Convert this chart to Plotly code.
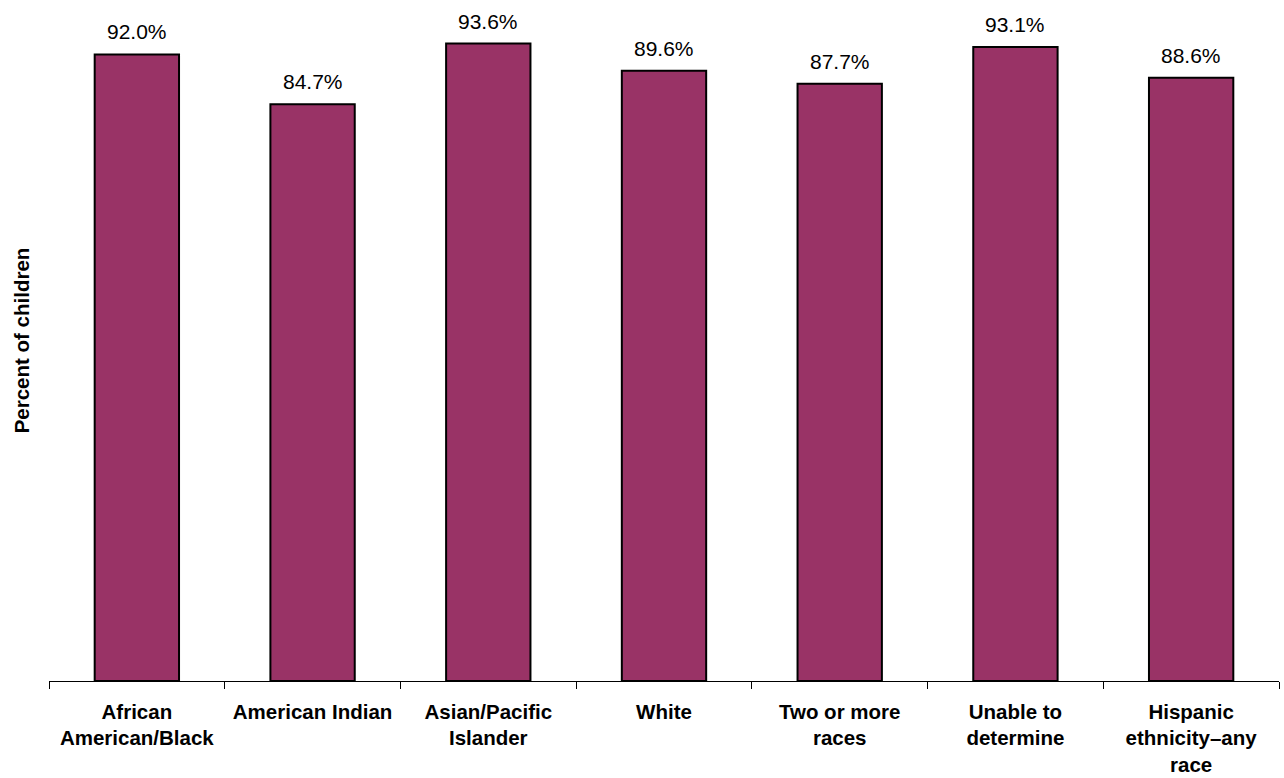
import plotly.graph_objects as go

categories = ["African<br>American/Black", "American Indian", "Asian/Pacific<br>Islander",
              "White", "Two or more<br>races", "Unable to<br>determine",
              "Hispanic<br>ethnicity–any<br>race"]
values = [92.0, 84.7, 93.6, 89.6, 87.7, 93.1, 88.6]
value_labels = [f"{v:.1f}%" for v in values]

FONT = "Liberation Sans, Arial"

fig = go.Figure(go.Bar(
    x=categories, y=values,
    marker=dict(color="#993366", line=dict(color="black", width=2)),
    width=0.48,
))

for c, v, t in zip(categories, values, value_labels):
    fig.add_annotation(x=c, y=v, text=t, showarrow=False, yanchor="bottom",
                       yshift=9, font=dict(family=FONT, size=21, color="black"))

fig.update_layout(
    width=1284, height=778,
    margin=dict(l=49, r=5, t=0, b=97),
    paper_bgcolor="white", plot_bgcolor="white",
    showlegend=False,
    font=dict(family=FONT, color="black"),
    xaxis=dict(
        showline=True, linecolor="black", linewidth=1,
        ticks="outside", tickson="boundaries", ticklen=7, tickcolor="black",
        ticklabelstandoff=12,
        tickfont=dict(family=FONT, size=20.5, color="black", weight="bold"),
        showgrid=False, automargin=False,
    ),
    yaxis=dict(
        range=[0, 100], showgrid=False, showticklabels=False, zeroline=False,
        showline=False, ticks="", automargin=False,
        title=dict(text="<b>Percent of children</b>", standoff=12,
                   font=dict(family=FONT, size=20.5, color="black")),
    ),
)

fig.write_html("out.html", config={"displayModeBar": False},
               post_script="document.body.style.margin='0';")
